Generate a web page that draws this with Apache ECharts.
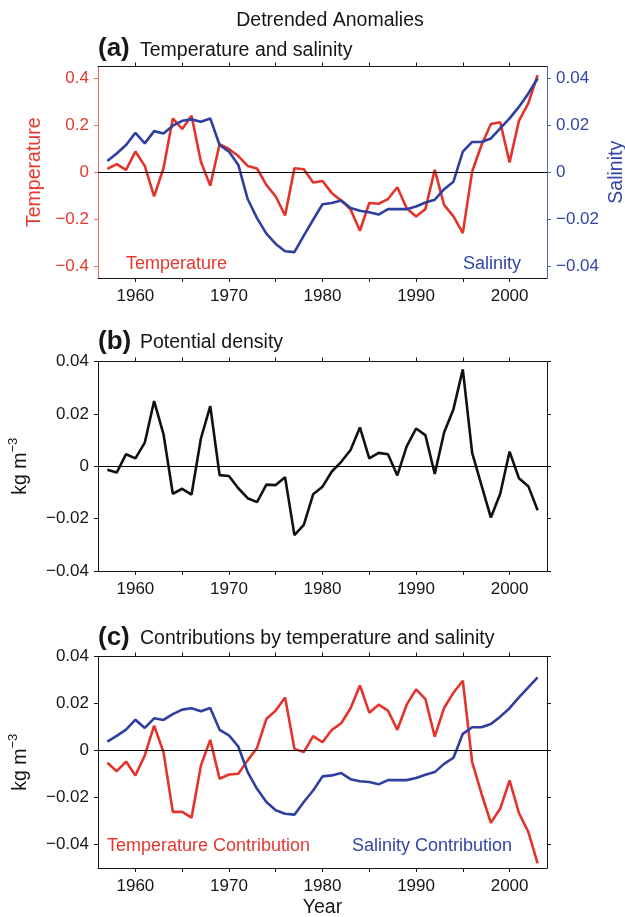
<!DOCTYPE html>
<html>
<head>
<meta charset="utf-8">
<title>Detrended Anomalies</title>
<script src="https://cdn.jsdelivr.net/npm/echarts@6.0.0/dist/echarts.min.js"></script>
<style>
  html, body { margin: 0; padding: 0; background: #fff; }
  #chart { width: 625px; height: 917px; }
</style>
</head>
<body>
<div id="chart"></div>
<script>
// Annual detrended anomalies, 1957-2003
const years = [1957, 1958, 1959, 1960, 1961, 1962, 1963, 1964, 1965, 1966,
  1967, 1968, 1969, 1970, 1971, 1972, 1973, 1974, 1975, 1976,
  1977, 1978, 1979, 1980, 1981, 1982, 1983, 1984, 1985, 1986,
  1987, 1988, 1989, 1990, 1991, 1992, 1993, 1994, 1995, 1996,
  1997, 1998, 1999, 2000, 2001, 2002, 2003];

// (a) temperature (left axis) and salinity (right axis)
const temperature = [0.014, 0.035, 0.010, 0.088, 0.027, -0.103, 0.017, 0.229, 0.184, 0.240,
  0.045, -0.057, 0.120, 0.099, 0.069, 0.027, 0.016, -0.054, -0.103, -0.184,
  0.017, 0.013, -0.044, -0.037, -0.089, -0.120, -0.158, -0.249, -0.131, -0.134,
  -0.114, -0.064, -0.153, -0.188, -0.157, 0.010, -0.139, -0.188, -0.259, 0.003,
  0.116, 0.205, 0.213, 0.042, 0.219, 0.293, 0.413];

const salinity = [0.0048, 0.0080, 0.0116, 0.0168, 0.0123, 0.0175, 0.0165, 0.0198, 0.0219, 0.0225,
  0.0215, 0.0229, 0.0116, 0.0088, 0.0031, -0.0114, -0.0195, -0.0261, -0.0305, -0.0336,
  -0.0340, -0.0270, -0.0202, -0.0136, -0.0131, -0.0120, -0.0152, -0.0164, -0.0170, -0.0180,
  -0.0157, -0.0157, -0.0157, -0.0146, -0.0129, -0.0117, -0.0072, -0.0040, 0.0088, 0.0129,
  0.0129, 0.0144, 0.0187, 0.0229, 0.0278, 0.0335, 0.0399];

// (b) potential density, kg m^-3
const density = [-0.0013, -0.0024, 0.0046, 0.0030, 0.0090, 0.0249, 0.0123, -0.0105, -0.0086, -0.0108,
  0.0106, 0.0230, -0.0034, -0.0037, -0.0084, -0.0122, -0.0137, -0.0070, -0.0072, -0.0042,
  -0.0263, -0.0224, -0.0107, -0.0078, -0.0020, 0.0017, 0.0062, 0.0148, 0.0030, 0.0051,
  0.0046, -0.0035, 0.0076, 0.0144, 0.0119, -0.0029, 0.0129, 0.0218, 0.0370, 0.0051,
  -0.0073, -0.0196, -0.0105, 0.0056, -0.0046, -0.0076, -0.0168];

// (c) density contributions, kg m^-3
const tempContribution = [-0.0052, -0.0088, -0.0047, -0.0106, -0.0021, 0.0106, -0.0007, -0.0261, -0.0261, -0.0286,
  -0.0064, 0.0045, -0.0120, -0.0102, -0.0099, -0.0042, 0.0011, 0.0134, 0.0170, 0.0226,
  0.0007, -0.0007, 0.0061, 0.0035, 0.0088, 0.0116, 0.0180, 0.0277, 0.0161, 0.0195,
  0.0170, 0.0088, 0.0195, 0.0260, 0.0219, 0.0059, 0.0181, 0.0246, 0.0297, -0.0049,
  -0.0184, -0.0308, -0.0247, -0.0127, -0.0266, -0.0346, -0.0480];

const salContribution = [0.0038, 0.0062, 0.0089, 0.0131, 0.0096, 0.0137, 0.0130, 0.0155, 0.0174, 0.0180,
  0.0167, 0.0181, 0.0088, 0.0064, 0.0017, -0.0092, -0.0163, -0.0219, -0.0254, -0.0269,
  -0.0273, -0.0219, -0.0170, -0.0110, -0.0106, -0.0096, -0.0122, -0.0131, -0.0134, -0.0144,
  -0.0126, -0.0126, -0.0126, -0.0117, -0.0103, -0.0092, -0.0057, -0.0031, 0.0071, 0.0099,
  0.0099, 0.0113, 0.0144, 0.0180, 0.0226, 0.0269, 0.0311];

// Tick positions and labels
const yearTicks = [1960, 1965, 1970, 1975, 1980, 1985, 1990, 1995, 2000];
const yearLabels = [1960, 1970, 1980, 1990, 2000];
const tempTicks = [-0.4, -0.2, 0, 0.2, 0.4];
const salTicks = [-0.04, -0.02, 0, 0.02, 0.04];
const densTicks = [-0.04, -0.02, 0, 0.02, 0.04];

const FONT = '"Liberation Sans", Arial, Helvetica, sans-serif';
const RED = '#e3342b';
const BLUE = '#2f3f9f';
const RED_TEXT = '#e5392f';
const BLUE_TEXT = '#3345a5';
const INK = '#161616';

const GRIDS = [
  { left: 98, width: 449, top: 66.5, height: 211.5 },
  { left: 98, width: 449, top: 361.5, height: 209.5 },
  { left: 98, width: 449, top: 656.5, height: 211.5 }
];

function fmtSigned(v) {
  return v < 0 ? '\u2212' + String(Math.abs(v)) : String(v);
}

function pairs(xs, ys) {
  return xs.map((x, i) => [x, ys[i]]);
}

function xAxisPair(g, extra) {
  const base = {
    type: 'value', gridIndex: g, min: 1956, max: 2004,
    splitLine: { show: false },
    axisLine: { onZero: false, lineStyle: { color: INK, width: 1 } },
    axisTick: { show: true, inside: false, length: 4, customValues: yearTicks,
      lineStyle: { color: INK, width: 1 } }
  };
  return [
    Object.assign({}, base, {
      position: 'bottom',
      axisLabel: { customValues: yearLabels, fontSize: 17, color: INK, fontFamily: FONT,
        margin: 10, formatter: v => String(v) }
    }, extra || {}),
    Object.assign({}, base, { position: 'top', axisLabel: { show: false } })
  ];
}

function yAxis(g, pos, min, max, ticks, color, lineColor, showLabels, extra) {
  return Object.assign({
    type: 'value', gridIndex: g, position: pos, min: min, max: max,
    splitLine: { show: false },
    nameMoveOverlap: false,
    axisLine: { show: true, onZero: false, lineStyle: { color: lineColor, width: 1 } },
    axisTick: { show: true, inside: false, length: 4, customValues: ticks,
      lineStyle: { color: lineColor, width: 1 } },
    axisLabel: { show: showLabels, customValues: ticks, fontSize: 17, color: color,
      fontFamily: FONT, margin: 9, formatter: fmtSigned }
  }, extra || {});
}

const zeroLine = {
  silent: true, symbol: ['none', 'none'], label: { show: false },
  lineStyle: { color: '#000', width: 1, type: 'solid' },
  emphasis: { disabled: true },
  animation: false,
  data: [{ yAxis: 0 }]
};

function lineSeries(xi, yi, values, color, withZero) {
  const s = {
    type: 'line', xAxisIndex: xi, yAxisIndex: yi,
    data: pairs(years, values),
    symbol: 'none', showSymbol: false,
    lineStyle: { color: color, width: 2.6 },
    itemStyle: { color: color },
    emphasis: { disabled: true },
    animation: false, silent: true
  };
  if (withZero) s.markLine = zeroLine;
  return s;
}

const kgName = '{a|kg m}{s|\u22123}';
const kgRich = {
  a: { fontSize: 19.5, fontFamily: FONT, color: INK, lineHeight: 24, verticalAlign: 'bottom' },
  s: { fontSize: 13, fontFamily: FONT, color: INK, lineHeight: 14, verticalAlign: 'top' }
};

function txt(x, y, text, font, fill, align) {
  return {
    type: 'text', x: x, y: y, silent: true,
    style: { text: text, font: font, fill: fill,
      textAlign: align || 'left', align: align || 'left',
      textVerticalAlign: 'middle', verticalAlign: 'middle' }
  };
}

const option = {
  backgroundColor: '#ffffff',
  animation: false,
  grid: GRIDS.map(g => Object.assign({ show: false, containLabel: false, outerBoundsMode: 'none' }, g)),
  xAxis: [].concat(
    xAxisPair(0),
    xAxisPair(1),
    xAxisPair(2, {
      name: 'Year', nameLocation: 'middle', nameGap: 30,
      nameTextStyle: { fontSize: 19.5, fontFamily: FONT, color: INK }
    })
  ),
  yAxis: [
    yAxis(0, 'left', -0.45, 0.45, tempTicks, RED_TEXT, '#ea6b66', true, {
      name: 'Temperature', nameLocation: 'middle', nameGap: 53, nameRotate: 90,
      nameTextStyle: { fontSize: 19.5, fontFamily: FONT, color: RED_TEXT }
    }),
    yAxis(0, 'right', -0.045, 0.045, salTicks, BLUE_TEXT, '#5563b0', true, {
      name: 'Salinity', nameLocation: 'middle', nameGap: 60, nameRotate: 90,
      nameTextStyle: { fontSize: 19.5, fontFamily: FONT, color: BLUE_TEXT }
    }),
    yAxis(1, 'left', -0.04, 0.04, densTicks, INK, INK, true, {
      name: kgName, nameLocation: 'middle', nameGap: 67, nameRotate: 90,
      nameTextStyle: { rich: kgRich }
    }),
    yAxis(1, 'right', -0.04, 0.04, densTicks, INK, INK, false),
    yAxis(2, 'left', -0.05, 0.04, densTicks, INK, INK, true, {
      name: kgName, nameLocation: 'middle', nameGap: 67, nameRotate: 90,
      nameTextStyle: { rich: kgRich }
    }),
    yAxis(2, 'right', -0.05, 0.04, densTicks, INK, INK, false)
  ],
  series: [
    lineSeries(0, 0, temperature, RED, true),
    lineSeries(0, 1, salinity, BLUE, false),
    lineSeries(2, 2, density, '#111111', true),
    lineSeries(4, 4, tempContribution, RED, true),
    lineSeries(4, 4, salContribution, BLUE, false)
  ],
  graphic: [
    txt(330, 21, 'Detrended Anomalies', '19.5px ' + FONT, INK, 'center'),
    txt(98, 49, '(a)', 'bold 26px ' + FONT, INK),
    txt(140, 51, 'Temperature and salinity', '19.5px ' + FONT, INK),
    txt(98, 342, '(b)', 'bold 26px ' + FONT, INK),
    txt(140, 343, 'Potential density', '19.5px ' + FONT, INK),
    txt(98, 638, '(c)', 'bold 26px ' + FONT, INK),
    txt(140, 639, 'Contributions by temperature and salinity', '19.5px ' + FONT, INK),
    txt(126, 264, 'Temperature', '18px ' + FONT, RED_TEXT),
    txt(463, 264, 'Salinity', '18px ' + FONT, BLUE_TEXT),
    txt(107, 846, 'Temperature Contribution', '18px ' + FONT, RED_TEXT),
    txt(352, 846, 'Salinity Contribution', '18px ' + FONT, BLUE_TEXT)
  ]
};

const chart = echarts.init(document.getElementById('chart'), null, { renderer: 'canvas' });
chart.setOption(option);
</script>
</body>
</html>
